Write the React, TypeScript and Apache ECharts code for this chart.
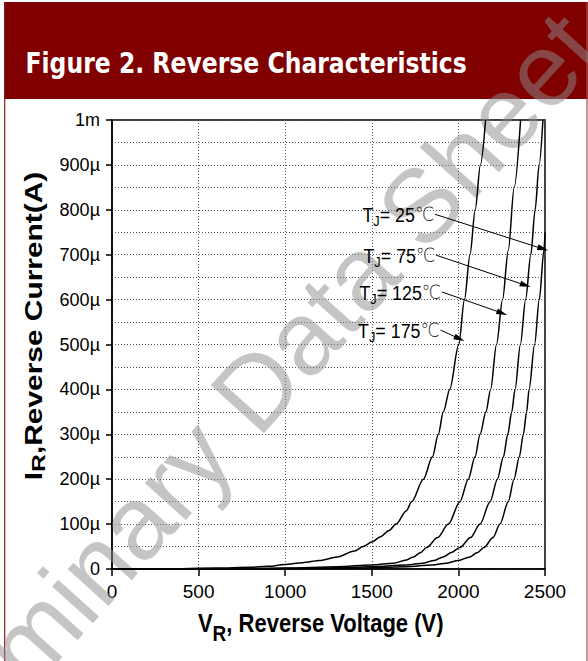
import React, { useEffect, useRef } from "react";
import * as echarts from "echarts";

// ---------- data (V in volts, I in µA) ----------
const V_175 = [0, 300, 600, 800, 900, 1000, 1100, 1200, 1300, 1400, 1450, 1500, 1550, 1600, 1640, 1700, 1730, 1798, 1850, 1884, 1913, 1950, 2002, 2035, 2067, 2097, 2127, 2157];
const I_175 = [0, 0.5, 2, 4, 6, 10, 14, 19, 27, 40, 50, 60, 72, 86, 100, 130, 150, 200, 250, 300, 350, 400, 500, 600, 700, 800, 900, 1000];

const V_125 = [0, 600, 1000, 1300, 1500, 1624, 1700, 1740, 1780, 1817, 1880, 1942, 2009, 2057, 2096, 2125, 2159, 2186, 2220, 2255, 2288, 2322, 2359];
const I_125 = [0, 0.5, 2, 5, 9, 13, 20, 27, 36, 48, 70, 100, 150, 200, 250, 300, 350, 400, 500, 600, 710, 850, 1000];

const V_75 = [0, 800, 1200, 1500, 1700, 1797, 1860, 1913, 1960, 2009, 2070, 2125, 2183, 2225, 2260, 2285, 2308, 2327, 2358, 2388, 2418, 2443, 2466, 2488];
const I_75 = [0, 0.5, 2, 5, 9, 13, 19, 27, 37, 48, 70, 100, 150, 200, 250, 300, 350, 400, 500, 600, 700, 800, 900, 1000];

const V_25 = [0, 1000, 1400, 1700, 1850, 1932, 2000, 2067, 2110, 2148, 2200, 2240, 2288, 2321, 2352, 2375, 2394, 2408, 2440, 2467, 2494, 2500];
const I_25 = [0, 0.5, 2, 5, 9, 13, 19, 27, 37, 48, 70, 100, 150, 200, 250, 300, 350, 400, 500, 600, 710, 750];

const TEMPS = ["25", "75", "125", "175"];
// arrow start (label end) and arrow tip, in data units [V, µA]
const ARROW_FROM = [[1865, 790], [1871, 699], [1905, 617], [1897, 532]];
const ARROW_TO = [[2488, 713], [2387, 632], [2252, 570], [2006, 513]];

const X_MIN = 0, X_MAX = 2500, X_STEP = 500;
const Y_MIN = 0, Y_MAX = 1000, Y_STEP = 100;

const TITLE = "Figure 2. Reverse Characteristics";
const WATERMARK = "Preliminary Data Sheet";

const FONT = "'Liberation Sans', Arial, Helvetica, sans-serif";

function pairs(v: number[], i: number[]) {
  return v.map((x, k) => [x, i[k]]);
}

function yLabel(v: number) {
  if (v === 0) return "0";
  if (v === 1000) return "1m";
  return v + "µ";
}

export default function App() {
  const ref = useRef<HTMLDivElement>(null);
  useEffect(() => {
    if (!ref.current) return;
    const chart = echarts.init(ref.current, undefined, { renderer: "svg" });
    const lineStyle = { color: "#000", width: 1.5 };
    const mkSeries = (name: string, v: number[], i: number[], extra: any = {}) => ({
      type: "line",
      name,
      data: pairs(v, i),
      showSymbol: false,
      symbol: "none",
      smooth: 0.3,
      smoothMonotone: "x",
      lineStyle,
      z: 3,
      silent: true,
      ...extra,
    });
    const markLine = {
      silent: true,
      symbol: ["none", "triangle"],
      symbolSize: [6, 11],
      lineStyle: { color: "#000", width: 1, type: "solid" },
      label: { show: false },
      data: ARROW_FROM.map((f, k) => [{ coord: f }, { coord: ARROW_TO[k] }]),
      z: 4,
    };
    const grid = { left: 112, top: 120, width: 433, height: 449 };
    const option: any = {
      animation: false,
      backgroundColor: "#fff",
      grid: { ...grid, show: true, borderColor: "#000", borderWidth: 1.5, backgroundColor: "transparent" },
      xAxis: {
        type: "value",
        min: X_MIN,
        max: X_MAX,
        interval: X_STEP,
        axisLine: { show: true, lineStyle: { color: "#000", width: 1.5 } },
        axisTick: { show: true, length: 7, inside: false, lineStyle: { color: "#000", width: 1.5 } },
        axisLabel: { color: "#000", fontSize: 19, fontFamily: FONT, margin: 13, formatter: (v: number) => String(v) },
        splitLine: { show: true, lineStyle: { color: "#555", width: 1, type: [1, 2] } },
      },
      yAxis: {
        type: "value",
        min: Y_MIN,
        max: Y_MAX,
        interval: Y_STEP,
        axisLine: { show: true, lineStyle: { color: "#000", width: 1.5 } },
        axisTick: { show: true, length: 6, inside: false, lineStyle: { color: "#000", width: 1.5 } },
        axisLabel: { color: "#000", fontSize: 18, fontFamily: FONT, margin: 12, formatter: yLabel },
        splitLine: { show: true, lineStyle: { color: "#555", width: 1, type: [1, 2] } },
        minorTick: { show: false, splitNumber: 2 },
        minorSplitLine: { show: true, lineStyle: { color: "#555", width: 1, type: [1, 2] } },
      },
      series: [
        mkSeries("TJ=25", V_25, I_25, { markLine }),
        mkSeries("TJ=75", V_75, I_75),
        mkSeries("TJ=125", V_125, I_125),
        mkSeries("TJ=175", V_175, I_175),
      ],
    };
    chart.setOption(option);

    const labelEls = ARROW_FROM.map((f, k) => {
      const p = chart.convertToPixel({ gridIndex: 0 }, f) as number[];
      return {
        type: "text",
        x: p[0] - 1,
        y: p[1] + 1,
        scaleX: 0.85,
        z: 10,
        style: {
          text: `{t|T}{s|J}{t|= ${TEMPS[k]}}{c|℃}`,
          align: "right",
          verticalAlign: "middle",
          textAlign: "right",
          textVerticalAlign: "middle",
          rich: {
            t: { fontSize: 21, fontFamily: FONT, fill: "#000", color: "#000", lineHeight: 22, verticalAlign: "top" },
            s: { fontSize: 15, fontFamily: FONT, fill: "#000", color: "#000", lineHeight: 15, padding: [9, 0, 0, 0], verticalAlign: "top" },
            c: { fontSize: 20, fontFamily: "'DejaVu Sans', 'Noto Sans CJK SC', sans-serif", fontWeight: 200, fill: "#222", color: "#222", lineHeight: 22, verticalAlign: "top" },
          },
        },
      };
    });

    chart.setOption({
      graphic: [
        { type: "rect", z: 0, silent: true, shape: { x: 4, y: 2, width: 584, height: 97 }, style: { fill: "#800000" } },
        { type: "line", z: 0, silent: true, shape: { x1: 4.7, y1: 2, x2: 4.7, y2: 661 }, style: { stroke: "#8b1a1a", lineWidth: 1.2 } },
        { type: "line", z: 0, silent: true, shape: { x1: 587, y1: 2, x2: 587, y2: 661 }, style: { stroke: "#a05050", lineWidth: 1.2 } },
        {
          type: "text",
          z: 1,
          x: 25.5,
          y: 63,
          scaleX: 0.84,
          silent: true,
          style: {
            text: TITLE,
            fontSize: 28,
            fontWeight: "bold",
            fontFamily: "'DejaVu Sans', Verdana, sans-serif",
            fill: "#fff",
            align: "left",
            verticalAlign: "middle",
            textAlign: "left",
            textVerticalAlign: "middle",
          },
        },
        {
          type: "text",
          z: 2,
          x: 222,
          y: 426,
          rotation: (48 * Math.PI) / 180,
          silent: true,
          style: {
            text: WATERMARK,
            fontSize: 104,
            fontFamily: FONT,
            fill: "rgba(140,140,140,0.5)",
            align: "center",
            verticalAlign: "middle",
            textAlign: "center",
            textVerticalAlign: "middle",
          },
        },
        {
          type: "text",
          z: 10,
          x: 320.7,
          y: 624,
          scaleY: 1.16,
          silent: true,
          style: {
            text: "{a|V}{s|R}{a|, Reverse Voltage (V)}",
            align: "center",
            verticalAlign: "middle",
            textAlign: "center",
            textVerticalAlign: "middle",
            rich: {
              a: { fontSize: 22, fontWeight: "bold", fontFamily: FONT, fill: "#000", color: "#000", lineHeight: 24, verticalAlign: "top" },
              s: { fontSize: 19, fontWeight: "bold", fontFamily: FONT, fill: "#000", color: "#000", lineHeight: 19, padding: [10, 0, 0, 0], verticalAlign: "top" },
            },
          },
        },
        {
          type: "text",
          z: 10,
          x: 35,
          y: 326,
          rotation: Math.PI / 2,
          scaleX: 1.3,
          silent: true,
          style: {
            text: "{a|I}{s|R}{a|,Reverse Current(A)}",
            align: "center",
            verticalAlign: "middle",
            textAlign: "center",
            textVerticalAlign: "middle",
            rich: {
              a: { fontSize: 23, fontWeight: "bold", fontFamily: FONT, fill: "#000", color: "#000", lineHeight: 25, verticalAlign: "top" },
              s: { fontSize: 19, fontWeight: "bold", fontFamily: FONT, fill: "#000", color: "#000", lineHeight: 19, padding: [7, 0, 0, 0], verticalAlign: "top" },
            },
          },
        },
        ...labelEls,
      ],
    });

    return () => chart.dispose();
  }, []);
  return <div ref={ref} style={{ position: "fixed", left: 0, top: 0, width: 588, height: 661 }} />;
}
